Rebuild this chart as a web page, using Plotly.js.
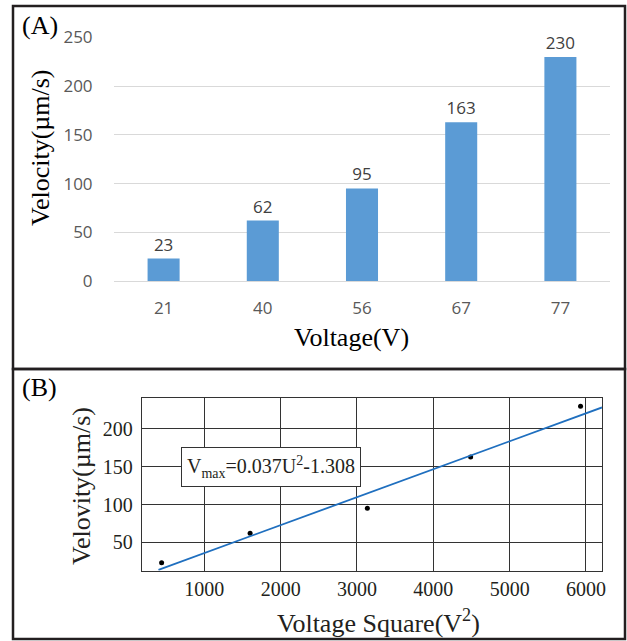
<!DOCTYPE html>
<html>
<head>
<meta charset="utf-8">
<script src="https://cdn.plot.ly/plotly-3.0.1.min.js"></script>
<style>html,body{margin:0;padding:0;background:#fff}#chart{width:627px;height:641px}</style>
</head>
<body>
<div id="chart"></div>
<script>
// Data
var voltages = ["21", "40", "56", "67", "77"];
var velocities = [23, 62, 95, 163, 230];
var voltageSquare = [441, 1600, 3136, 4489, 5929];
var fitX = [400, 6210];
var fitY = [13.5, 228.5];
var equationText = "V<sub>max</sub>=0.037U<sup>2</sup>-1.308";

var W = 627, H = 641;
function px(x){return x / W;}
function py(y){return 1 - y / H;}

var serif = "Liberation Serif, Times New Roman, serif";
var sans = "Open Sans, Liberation Sans, sans-serif";

var traces = [
  {
    type: "bar", x: voltages, y: velocities, xaxis: "x", yaxis: "y",
    marker: {color: "#5b9bd5"},
    text: velocities.map(String), textposition: "outside",
    textfont: {family: sans, size: 17, color: "#404040"},
    cliponaxis: false, hoverinfo: "none"
  },
  {
    type: "scatter", mode: "markers", x: voltageSquare, y: velocities,
    xaxis: "x2", yaxis: "y2",
    marker: {color: "#000", size: 5}, cliponaxis: false
  },
  {
    type: "scatter", mode: "lines", x: fitX, y: fitY,
    xaxis: "x2", yaxis: "y2",
    line: {color: "#1f6fbf", width: 1.8}
  }
];

var layout = {
  width: W, height: H,
  margin: {l: 0, r: 0, t: 0, b: 0},
  paper_bgcolor: "#fff", plot_bgcolor: "#fff",
  showlegend: false,
  bargap: 0.677,
  xaxis: {
    domain: [px(114), px(610)], anchor: "y", type: "category",
    showgrid: false, showline: false, zeroline: false,
    ticks: "outside", ticklen: 12, tickcolor: "rgba(0,0,0,0)",
    tickfont: {family: sans, size: 17, color: "#595959"}
  },
  yaxis: {
    domain: [py(281), py(37.5)], anchor: "x", range: [0, 250], dtick: 50,
    showgrid: true, gridcolor: "#d9d9d9", gridwidth: 1,
    zeroline: true, zerolinecolor: "#d9d9d9", zerolinewidth: 1,
    showline: false,
    ticks: "outside", ticklen: 17, tickcolor: "rgba(0,0,0,0)",
    tickfont: {family: sans, size: 17, color: "#595959"}
  },
  xaxis2: {
    domain: [px(141.7), px(602)], anchor: "y2", range: [180, 6210],
    tickvals: [1000, 2000, 3000, 4000, 5000, 6000],
    showgrid: true, gridcolor: "#333", gridwidth: 1, zeroline: false,
    showline: true, linecolor: "#333", linewidth: 1, mirror: true,
    ticks: "", 
    tickfont: {family: serif, size: 20, color: "#231f20"}
  },
  yaxis2: {
    domain: [py(570.7), py(398)], anchor: "x2", range: [12.4, 241],
    tickvals: [50, 100, 150, 200],
    showgrid: true, gridcolor: "#333", gridwidth: 1, zeroline: false,
    showline: true, linecolor: "#333", linewidth: 1, mirror: true,
    ticks: "outside", ticklen: 4, tickcolor: "rgba(0,0,0,0)",
    tickfont: {family: serif, size: 20, color: "#231f20"}
  },
  shapes: [
    {type: "rect", xref: "paper", yref: "paper", x0: px(13), x1: px(625), y0: py(369), y1: py(6),
     line: {color: "#231f20", width: 2.5}},
    {type: "rect", xref: "paper", yref: "paper", x0: px(13), x1: px(625), y0: py(639), y1: py(369),
     line: {color: "#231f20", width: 2.5}}
  ],
  annotations: [
    {text: "(A)", xref: "paper", yref: "paper", x: px(20), y: py(25), xanchor: "left", yanchor: "middle",
     showarrow: false, font: {family: serif, size: 26, color: "#000"}},
    {text: "(B)", xref: "paper", yref: "paper", x: px(20), y: py(387), xanchor: "left", yanchor: "middle",
     showarrow: false, font: {family: serif, size: 26, color: "#000"}},
    {text: "Velocity(µm/s)", xref: "paper", yref: "paper", x: px(40), y: py(148), textangle: -90,
     xanchor: "center", yanchor: "middle", showarrow: false, font: {family: serif, size: 26, color: "#000"}},
    {text: "Voltage(V)", xref: "paper", yref: "paper", x: px(351), y: py(338),
     xanchor: "center", yanchor: "middle", showarrow: false, font: {family: serif, size: 26, color: "#000"}},
    {text: "Velovity(µm/s)", xref: "paper", yref: "paper", x: px(81), y: py(486), textangle: -90,
     xanchor: "center", yanchor: "middle", showarrow: false, font: {family: serif, size: 26, color: "#231f20"}},
    {text: "Voltage Square(V<sup>2</sup>)", xref: "paper", yref: "paper", x: px(378), y: py(621),
     xanchor: "center", yanchor: "middle", showarrow: false, font: {family: serif, size: 26, color: "#231f20"}},
    {text: equationText, xref: "paper", yref: "paper", x: px(270.5), y: py(467),
     xanchor: "center", yanchor: "middle", showarrow: false,
     font: {family: serif, size: 20, color: "#231f20"},
     bgcolor: "#fff", bordercolor: "#333", borderwidth: 1, borderpad: 5}
  ]
};

Plotly.newPlot("chart", traces, layout, {displayModeBar: false, staticPlot: true});
</script>
</body>
</html>
